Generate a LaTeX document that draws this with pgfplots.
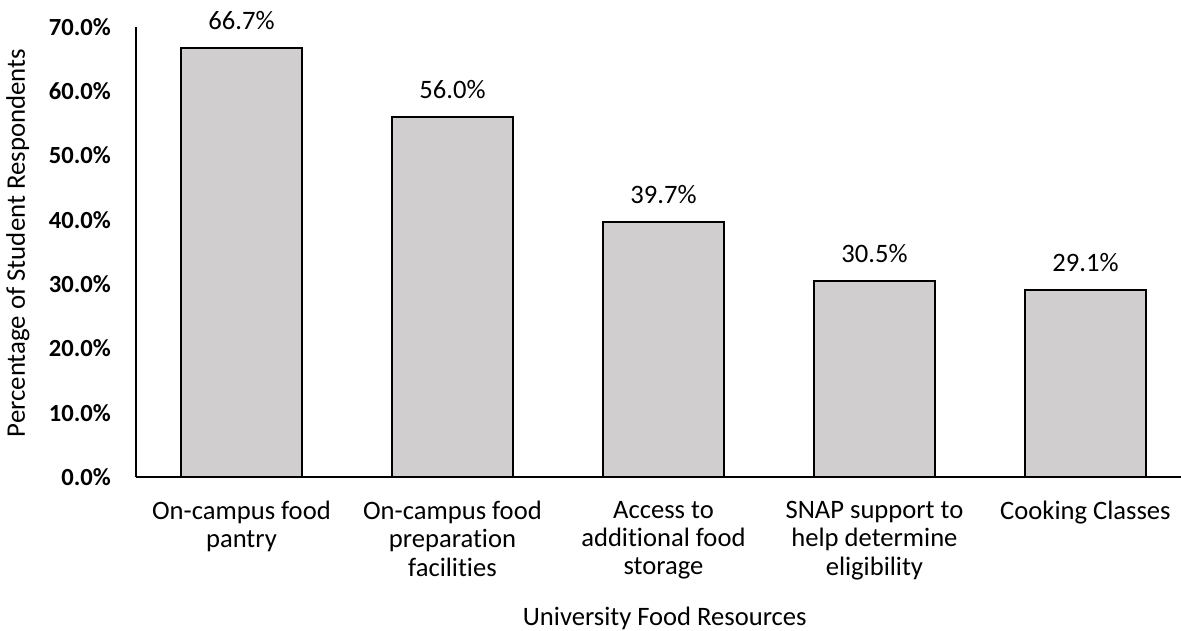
\documentclass[border=0pt]{standalone}
\usepackage{fontspec}
\setmainfont[Ligatures=NoCommon]{Carlito}
\usepackage{pgfplots}
\pgfplotsset{compat=1.18}
\definecolor{barfill}{RGB}{208,206,206}
\begin{document}
\begin{tikzpicture}
\begin{axis}[
  scale only axis,
  width=522.5pt, height=225pt,
  xmin=-0.5, xmax=4.453,
  ymin=0, ymax=70,
  axis x line=bottom, axis y line=left,
  axis line style={-, black, line width=0.8pt},
  xtick=data,
  xticklabels={{On-campus food\\pantry},{On-campus food\\preparation\\facilities},{Access to\\additional food\\storage},{SNAP support to\\help determine\\eligibility},{Cooking Classes}},
  xticklabel style={align=center, font=\fontsize{13.3}{14.2}\selectfont, yshift=-8.5pt},
  ytick={0,10,20,30,40,50,60,70},
  yticklabel={\pgfmathprintnumber[fixed,fixed zerofill,precision=1]{\tick}\%},
  yticklabel style={font=\fontsize{12.3}{13}\selectfont\bfseries, xshift=-9pt},
  /pgf/number format/assume math mode=true,
  major tick length=0pt,
  ylabel={Percentage of Student Respondents},
  ylabel style={font=\fontsize{13.4}{14}\selectfont, at={(axis description cs:0,0.52)}, anchor=center, yshift=59pt},
  xlabel={University Food Resources},
  xlabel style={font=\fontsize{13.3}{14}\selectfont, at={(axis description cs:0.506,0)}, anchor=center, yshift=-70.5pt},
  clip=false,
  nodes near coords={\pgfmathprintnumber[fixed,fixed zerofill,precision=1]{\pgfplotspointmeta}\%},
  nodes near coords style={font=\fontsize{13.3}{14}\selectfont, anchor=south, yshift=5.5pt},
]
\addplot[ybar, bar width=60.5pt, fill=barfill, draw=black, line width=0.8pt] coordinates {(0,66.7) (1,56.0) (2,39.7) (3,30.5) (4,29.1)};
\coordinate (BL) at (rel axis cs:-0.1301,-0.34);
\coordinate (TR) at (rel axis cs:1,1.06);
\end{axis}
\pgfresetboundingbox
\path (BL) rectangle (TR);
\end{tikzpicture}
\end{document}
